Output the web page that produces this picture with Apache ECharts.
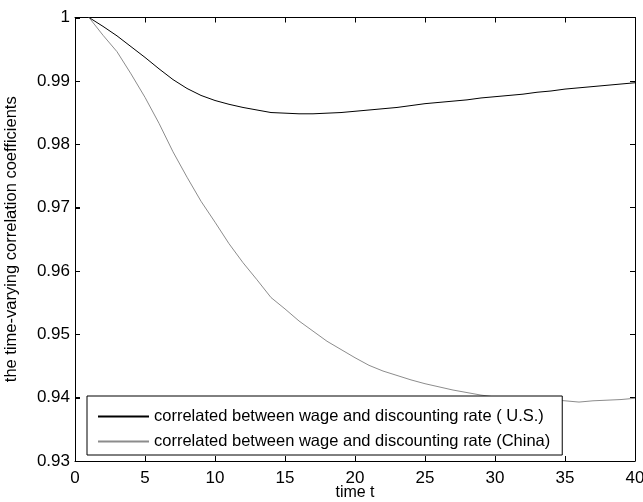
<!DOCTYPE html>
<html>
<head>
<meta charset="utf-8">
<script src="https://cdn.jsdelivr.net/npm/echarts@6/dist/echarts.min.js"></script>
<style>
  html, body { margin: 0; padding: 0; background: #fff; overflow: hidden; }
  #chart { width: 643px; height: 502px; }
</style>
</head>
<body>
<div id="chart"></div>
<script>
// Time periods
const periods = [1,2,3,4,5,6,7,8,9,10,11,12,13,14,15,16,17,18,19,20,
                 21,22,23,24,25,26,27,28,29,30,31,32,33,34,35,36,37,38,39,40];

// Time-varying correlation between wage and discounting rate, U.S.
const usCorr = [1.0000,0.9986,0.9971,0.9954,0.9937,0.9919,0.9902,0.9888,0.9877,0.9869,
                0.9863,0.9858,0.9854,0.9850,0.9849,0.9848,0.9848,0.9849,0.9850,0.9852,
                0.9854,0.9856,0.9858,0.9861,0.9864,0.9866,0.9868,0.9870,0.9873,0.9875,
                0.9877,0.9879,0.9882,0.9884,0.9887,0.9889,0.9891,0.9893,0.9895,0.9897];

// Time-varying correlation between wage and discounting rate, China
const chinaCorr = [1.0000,0.9972,0.9946,0.9911,0.9874,0.9833,0.9788,0.9748,0.9710,0.9677,
                   0.9643,0.9613,0.9586,0.9558,0.9540,0.9521,0.9505,0.9489,0.9476,0.9463,
                   0.9451,0.9442,0.9435,0.9428,0.9422,0.9417,0.9412,0.9408,0.9404,0.9401,
                   0.9400,0.9399,0.9398,0.9397,0.9395,0.9393,0.9395,0.9396,0.9397,0.9399];

const seriesNames = [
  'correlated between wage and discounting rate ( U.S.)',
  'correlated between wage and discounting rate (China)'
];

// Tick positions
const xTickValues = [0, 5, 10, 15, 20, 25, 30, 35, 40];
const yTickValues = [0.93, 0.94, 0.95, 0.96, 0.97, 0.98, 0.99, 1];

const xTicks = { min: 0, max: 40, interval: 5 };
const yTicks = { min: 0.93, max: 1, interval: 0.01 };

const FONT = 'Liberation Sans, Arial, sans-serif';
const TICK_LEN = 5;

const chart = echarts.init(document.getElementById('chart'), null, { renderer: 'canvas' });

const pairs = arr => periods.map((t, i) => [t, arr[i]]);

// Box-style axis: line plus short ticks pointing into the plot area
function frameAxis(extra) {
  return Object.assign({
    axisLine: { show: true, onZero: false, lineStyle: { color: '#000', width: 1 } },
    axisTick: { show: true, inside: false, length: -TICK_LEN, interval: 0,
                lineStyle: { color: '#000', width: 1 } },
    splitLine: { show: false }
  }, extra);
}

// Inward tick marks along the bottom and left edges, placed through the axis scales
function edgeTicks(values, horizontal) {
  return {
    type: 'custom',
    xAxisIndex: 0, yAxisIndex: 0,
    silent: true, clip: false, z: 5,
    data: values.map(v => [v]),
    renderItem: function (params, api) {
      const v = api.value(0);
      if (horizontal) {
        const p = api.coord([v, yTicks.min]);
        const x = Math.round(p[0]) + 0.5;
        return { type: 'line',
                 shape: { x1: x, y1: p[1], x2: x, y2: p[1] - TICK_LEN },
                 style: { stroke: '#000', lineWidth: 1 } };
      }
      const p = api.coord([xTicks.min, v]);
      const y = Math.round(p[1]) + 0.5;
      return { type: 'line',
               shape: { x1: p[0], y1: y, x2: p[0] + TICK_LEN, y2: y },
               style: { stroke: '#000', lineWidth: 1 } };
    }
  };
}

chart.setOption({
  animation: false,
  backgroundColor: '#fff',
  grid: { left: 75, width: 560, top: 17.5, height: 443.5,
          containLabel: false, outerBoundsMode: 'none' },
  xAxis: [
    frameAxis({
      type: 'value', position: 'bottom',
      min: xTicks.min, max: xTicks.max, interval: xTicks.interval,
      name: 'time t', nameLocation: 'middle', nameGap: 24, nameMoveOverlap: false,
      nameTextStyle: { fontFamily: FONT, fontSize: 16, color: '#000' },
      axisLabel: { margin: 9, fontFamily: FONT, fontSize: 17, color: '#000' }
    }),
    frameAxis({
      type: 'value', position: 'top',
      min: xTicks.min, max: xTicks.max, interval: xTicks.interval,
      axisLabel: { show: false }
    })
  ],
  yAxis: [
    frameAxis({
      type: 'value', position: 'left',
      min: yTicks.min, max: yTicks.max, interval: yTicks.interval,
      name: 'the time-varying correlation coefficients', nameLocation: 'middle',
      nameGap: 55, nameMoveOverlap: false,
      nameTextStyle: { fontFamily: FONT, fontSize: 16.5, color: '#000' },
      axisLabel: {
        margin: 5, fontFamily: FONT, fontSize: 17, color: '#000',
        formatter: v => String(parseFloat(v.toFixed(2)))
      }
    }),
    frameAxis({
      type: 'value', position: 'right',
      min: yTicks.min, max: yTicks.max, interval: yTicks.interval,
      axisLabel: { show: false }
    })
  ],
  legend: {
    orient: 'vertical',
    left: 87, top: 396,
    padding: [12, 12, 5, 10],
    itemWidth: 51, itemHeight: 14, itemGap: 8,
    backgroundColor: '#fff',
    borderColor: '#000', borderWidth: 1,
    itemStyle: { opacity: 0 },
    textStyle: { fontFamily: FONT, fontSize: 16.5, color: '#000' },
    data: seriesNames
  },
  series: [
    {
      name: seriesNames[0], type: 'line', xAxisIndex: 0, yAxisIndex: 0,
      data: pairs(usCorr), symbol: 'none', smooth: false,
      lineStyle: { color: '#000', width: 1 }, itemStyle: { color: '#000' }
    },
    {
      name: seriesNames[1], type: 'line', xAxisIndex: 0, yAxisIndex: 0,
      data: pairs(chinaCorr), symbol: 'none', smooth: false,
      lineStyle: { color: '#8c8c8c', width: 1 }, itemStyle: { color: '#8c8c8c' }
    },
    edgeTicks(xTickValues, true),
    edgeTicks(yTickValues, false)
  ]
});
</script>
</body>
</html>
